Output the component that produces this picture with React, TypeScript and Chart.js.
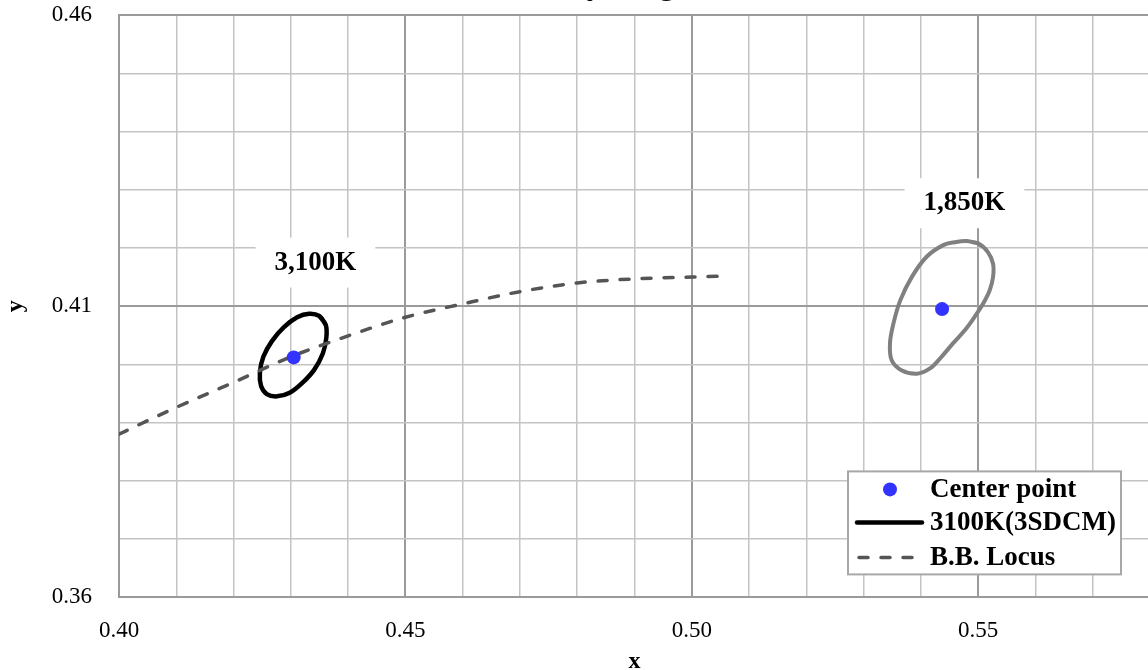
import React, { useEffect, useRef } from 'react';
import { Chart, registerables } from 'chart.js';

Chart.register(...registerables);

// ---------- data ----------
const titleText = 'Chromaticity Diagram';
const xAxisTitle = 'x';
const yAxisTitle = 'y';
const xTickLabels = ['0.40', '0.45', '0.50', '0.55'];
const yTickLabels = ['0.36', '0.41', '0.46'];
const xMin = 0.4;
const xMax = 0.58;
const yMin = 0.36;
const yMax = 0.46;
const gridStep = 0.01;

const seriesNames = ['Center point', '3100K(3SDCM)', 'B.B. Locus', '1850K(3SDCM)'];

const centerX = [0.4305, 0.5437];
const centerY = [0.4012, 0.4095];

const ellipse3100X = [0.4350, 0.4361, 0.4362, 0.4356, 0.4341, 0.4320, 0.4298, 0.4276, 0.4258, 0.4248, 0.4246, 0.4252, 0.4267, 0.4288, 0.4311, 0.4332, 0.4350, 0.4361];
const ellipse3100Y = [0.4083, 0.4068, 0.4046, 0.4019, 0.3991, 0.3968, 0.3951, 0.3945, 0.3949, 0.3963, 0.3986, 0.4013, 0.4040, 0.4064, 0.4081, 0.4087, 0.4083, 0.4068];

const ellipse1850X = [0.5480, 0.5500, 0.5517, 0.5526, 0.5526, 0.5520, 0.5509, 0.5494, 0.5477, 0.5456, 0.5436, 0.5416, 0.5393, 0.5366, 0.5349, 0.5346, 0.5352, 0.5364, 0.5384, 0.5410, 0.5439, 0.5459, 0.5480, 0.5500];
const ellipse1850Y = [0.4212, 0.4208, 0.4193, 0.4173, 0.4150, 0.4127, 0.4105, 0.4082, 0.4059, 0.4036, 0.4013, 0.3993, 0.3984, 0.3990, 0.4007, 0.4036, 0.4070, 0.4110, 0.4150, 0.4185, 0.4205, 0.4210, 0.4212, 0.4208];

const locusX = [0.40, 0.41, 0.42, 0.43, 0.44, 0.45, 0.46, 0.47, 0.48, 0.49, 0.50, 0.5065];
const locusY = [0.3880, 0.3926, 0.3969, 0.4013, 0.4049, 0.4081, 0.4104, 0.4125, 0.4140, 0.4147, 0.4150, 0.4152];

const cctLabels = ['3,100K', '1,850K'];
const cctLabelX = [0.4343, 0.5476];
const cctLabelY = [0.4175, 0.4277];

// ---------- styles ----------
const FONT = '"Liberation Serif", "Times New Roman", Times, serif';
const BLUE = '#3333ff';
const LOCUS = '#555555';
const GREY_ELLIPSE = '#808080';
const MAJOR_GRID = '#9a9a9a';
const MINOR_GRID = '#c4c4c4';
const LOCUS_DASH = [9, 13];

const zip = (xs: number[], ys: number[]) => xs.map((x, i) => ({ x, y: ys[i] }));

const labelBoxPlugin = {
  id: 'cctLabelBoxes',
  afterDatasetsDraw(chart: any) {
    const { ctx, scales } = chart;
    ctx.save();
    ctx.font = `bold 27px ${FONT}`;
    ctx.textAlign = 'center';
    ctx.textBaseline = 'middle';
    cctLabels.forEach((t, i) => {
      const px = scales.x.getPixelForValue(cctLabelX[i]);
      const py = scales.y.getPixelForValue(cctLabelY[i]);
      const w = ctx.measureText(t).width + 38;
      const h = 50;
      ctx.fillStyle = '#ffffff';
      ctx.fillRect(px - w / 2, py - h / 2, w, h);
      ctx.fillStyle = '#000000';
      ctx.fillText(t, px, py);
    });
    ctx.restore();
  },
};

const legendLayout = { dx: 729, dy: 456, w: 273, h: 103, rowY: [18, 51, 86], dotX: 42, lineX0: 9, lineX1: 74, textX: 82 };

const insideLegendPlugin = {
  id: 'insideLegend',
  afterDraw(chart: any) {
    const { ctx, chartArea } = chart;
    const L = legendLayout;
    const left = chartArea.left + L.dx;
    const top = chartArea.top + L.dy;
    ctx.save();
    ctx.fillStyle = '#ffffff';
    ctx.fillRect(left, top, L.w, L.h);
    ctx.strokeStyle = '#a8a8a8';
    ctx.lineWidth = 2;
    ctx.strokeRect(left, top, L.w, L.h);
    const items = chart.data.datasets.filter((d: any) => d.inLegend);
    items.forEach((d: any, i: number) => {
      const y = top + L.rowY[i];
      if (!d.showLine) {
        ctx.fillStyle = d.backgroundColor;
        ctx.beginPath();
        ctx.arc(left + L.dotX, y, d.pointRadius, 0, Math.PI * 2);
        ctx.fill();
      } else {
        ctx.strokeStyle = d.borderColor;
        ctx.lineWidth = d.borderWidth;
        ctx.lineCap = d.borderCapStyle || 'round';
        ctx.setLineDash(d.borderDash || []);
        ctx.beginPath();
        ctx.moveTo(left + L.lineX0 + (d.borderDash ? 2 : 0), y);
        ctx.lineTo(left + L.lineX1, y);
        ctx.stroke();
        ctx.setLineDash([]);
      }
      ctx.fillStyle = '#000000';
      ctx.font = `bold 27px ${FONT}`;
      ctx.textAlign = 'left';
      ctx.textBaseline = 'middle';
      ctx.fillText(d.label, left + L.textX, y + 1);
    });
    ctx.restore();
  },
};

const tickFmt = (labels: string[]) => (value: any) => {
  const s = Number(value).toFixed(2);
  return labels.includes(s) ? s : '';
};

const gridColor = (ctx: any) => (ctx.tick && ctx.tick.label ? MAJOR_GRID : MINOR_GRID);
const gridWidth = (ctx: any) => (ctx.tick && ctx.tick.label ? 2 : 1.5);

const Y_AXIS_WIDTH = 119;
const X_AXIS_HEIGHT = 77;

export default function App() {
  const ref = useRef<HTMLCanvasElement>(null);

  useEffect(() => {
    const canvas = ref.current;
    if (!canvas) return;
    document.body.style.margin = '0';
    Chart.defaults.font.family = FONT;
    Chart.defaults.color = '#000000';

    const chart = new Chart(canvas, {
      type: 'scatter',
      data: {
        datasets: [
          {
            label: seriesNames[0],
            data: zip(centerX, centerY),
            showLine: false,
            pointRadius: 7,
            pointBorderWidth: 0,
            backgroundColor: BLUE,
            borderColor: BLUE,
            order: 0,
            inLegend: true,
          } as any,
          {
            label: seriesNames[1],
            data: zip(ellipse3100X, ellipse3100Y),
            showLine: true,
            borderColor: '#000000',
            backgroundColor: '#000000',
            borderWidth: 4.5,
            borderCapStyle: 'round',
            borderJoinStyle: 'round',
            tension: 0.34,
            pointRadius: 0,
            order: 2,
            inLegend: true,
          } as any,
          {
            label: seriesNames[2],
            data: zip(locusX, locusY),
            showLine: true,
            borderColor: LOCUS,
            backgroundColor: LOCUS,
            borderWidth: 3.5,
            borderDash: LOCUS_DASH,
            borderCapStyle: 'round',
            cubicInterpolationMode: 'monotone',
            pointRadius: 0,
            order: 1,
            inLegend: true,
          } as any,
          {
            label: seriesNames[3],
            data: zip(ellipse1850X, ellipse1850Y),
            showLine: true,
            borderColor: GREY_ELLIPSE,
            backgroundColor: GREY_ELLIPSE,
            borderWidth: 4,
            borderCapStyle: 'round',
            borderJoinStyle: 'round',
            tension: 0.35,
            pointRadius: 0,
            order: 3,
            inLegend: false,
          } as any,
        ],
      },
      options: {
        responsive: false,
        animation: false,
        events: [],
        layout: { padding: { right: 18 } },
        plugins: {
          legend: { display: false },
          tooltip: { enabled: false },
          title: {
            display: true,
            text: titleText,
            font: { size: 32, weight: 'bold', family: FONT },
            color: '#000000',
            padding: { top: 1, bottom: 10 },
          },
        },
        scales: {
          x: {
            type: 'linear',
            min: xMin,
            max: xMax,
            afterFit: (s: any) => { s.height = X_AXIS_HEIGHT; },
            border: { color: MAJOR_GRID, width: 2 },
            grid: { color: gridColor, lineWidth: gridWidth, drawTicks: false },
            ticks: {
              stepSize: gridStep,
              autoSkip: false,
              maxRotation: 0,
              padding: 20,
              font: { size: 23, family: FONT },
              color: '#000000',
              callback: tickFmt(xTickLabels),
            },
            title: {
              display: true,
              text: xAxisTitle,
              font: { size: 24, weight: 'bold', family: FONT },
              color: '#000000',
              padding: { top: 0, bottom: -2 },
            },
          },
          y: {
            type: 'linear',
            min: yMin,
            max: yMax,
            afterFit: (s: any) => { s.width = Y_AXIS_WIDTH; },
            border: { color: MAJOR_GRID, width: 2 },
            grid: { color: gridColor, lineWidth: gridWidth, drawTicks: false },
            ticks: {
              stepSize: gridStep,
              autoSkip: false,
              padding: 27,
              font: { size: 23, family: FONT },
              color: '#000000',
              callback: tickFmt(yTickLabels),
            },
            title: {
              display: true,
              text: yAxisTitle,
              font: { size: 24, weight: 'bold', family: FONT },
              color: '#000000',
              padding: { top: 1, bottom: 0 },
            },
          },
        },
      },
      plugins: [labelBoxPlugin, insideLegendPlugin],
    } as any);

    return () => chart.destroy();
  }, []);

  return (
    <div style={{ position: 'fixed', left: 0, top: 0, width: 1148, height: 670, overflow: 'hidden', background: '#ffffff' }}>
      <div style={{ position: 'absolute', left: 0, top: -34, width: 1170, height: 708 }}>
        <canvas ref={ref} width={1170} height={708} style={{ width: 1170, height: 708, display: 'block' }} />
      </div>
    </div>
  );
}
